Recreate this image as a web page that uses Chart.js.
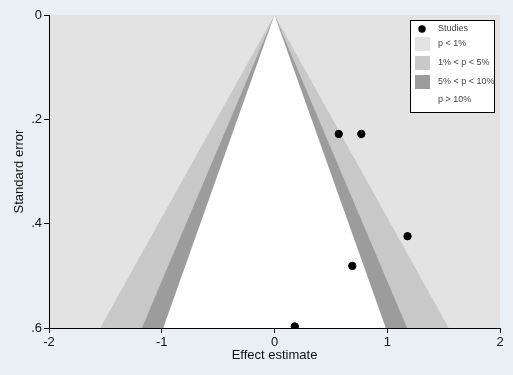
<!DOCTYPE html>
<html>
<head>
<meta charset="utf-8">
<script src="https://cdn.jsdelivr.net/npm/chart.js@4/dist/chart.umd.min.js"></script>
<style>
  html, body { margin: 0; padding: 0; background: #e9eff2; }
  #wrap { width: 513px; height: 375px; }
</style>
</head>
<body>
<div id="wrap"><canvas id="funnel" width="513" height="375"></canvas></div>
<script>
// study estimates and their standard errors
const studyEffects = [0.57, 0.77, 1.18, 0.69, 0.18];
const studySE = [0.228, 0.228, 0.424, 0.481, 0.597];

// contour z values (p = 1%, 5%, 10%) and funnel depth
const contourZ = [2.576, 1.96, 1.645];
const contourColors = ['#c8c8c8', '#9c9c9c', '#ffffff'];
const maxSE = 0.6;

const xTicks = [-2, -1, 0, 1, 2];
const yTicks = [0, 0.2, 0.4, 0.6];

const legendLabels = ['Studies', 'p < 1%', '1% < p < 5%', '5% < p < 10%', 'p > 10%'];
const legendColors = [null, '#e3e3e3', '#c8c8c8', '#9c9c9c', '#ffffff'];

function fmt(v) {
    if (v === 0) return '0';
    return String(v).replace('0.', '.');
}

// light gray plot background (p < 1% region)
const plotBg = {
    id: 'plotBg',
    beforeDraw(chart) {
        const { ctx, chartArea: a } = chart;
        ctx.save();
        ctx.fillStyle = '#e3e3e3';
        ctx.fillRect(a.left, a.top, a.right - a.left, a.bottom - a.top);
        ctx.restore();
    }
};

// boxed legend in the top right corner
const boxLegend = {
    id: 'boxLegend',
    afterDraw(chart) {
        const ctx = chart.ctx;
        const x = 410, y = 20, w = 84, h = 92;
        ctx.save();
        ctx.fillStyle = '#ffffff';
        ctx.fillRect(x, y, w, h);
        ctx.strokeStyle = '#000';
        ctx.lineWidth = 1;
        ctx.strokeRect(x + 0.5, y + 0.5, w, h);
        const rows = [29, 44, 63, 82, 100];
        ctx.font = '9px "Liberation Sans", Arial, sans-serif';
        ctx.textBaseline = 'middle';
        legendLabels.forEach((lab, i) => {
            const cy = rows[i];
            if (i === 0) {
                ctx.fillStyle = '#000';
                ctx.beginPath();
                ctx.arc(422, cy, 3.7, 0, Math.PI * 2);
                ctx.fill();
            } else {
                ctx.fillStyle = legendColors[i];
                ctx.fillRect(415, cy - 7, 15, 14);
            }
            ctx.fillStyle = '#444';
            ctx.fillText(lab, 438, cy);
        });
        ctx.restore();
    }
};

const funnelSets = contourZ.map((z, i) => ({
    type: 'line',
    data: [
        { x: -z * maxSE, y: maxSE },
        { x: 0, y: 0 },
        { x: z * maxSE, y: maxSE }
    ],
    borderWidth: 0,
    pointRadius: 0,
    backgroundColor: contourColors[i],
    borderColor: 'rgba(0,0,0,0)',
    fill: { value: maxSE },
    tension: 0,
    order: 3 - i
}));

const axisFont = { family: '"Liberation Sans", Arial, sans-serif', size: 13 };

new Chart(document.getElementById('funnel'), {
    type: 'scatter',
    data: {
        datasets: [
            {
                label: 'Studies',
                data: studyEffects.map((e, i) => ({ x: e, y: studySE[i] })),
                backgroundColor: '#000',
                borderColor: '#000',
                pointRadius: 3.7,
                order: 0
            },
            ...funnelSets
        ]
    },
    options: {
        responsive: false,
        animation: false,
        events: [],
        layout: { padding: { top: 15, right: 13, left: 0, bottom: 0 } },
        plugins: {
            legend: { display: false },
            tooltip: { enabled: false }
        },
        scales: {
            x: {
                type: 'linear',
                min: -2, max: 2,
                afterBuildTicks: s => { s.ticks = xTicks.map(v => ({ value: v })); },
                afterFit: s => { s.height = 47; },
                grid: { drawOnChartArea: false, color: '#000', tickLength: 5 },
                border: { color: '#000', width: 1 },
                ticks: {
                    color: '#111', padding: 2,
                    font: axisFont,
                    callback: v => fmt(v)
                },
                title: {
                    display: true, text: 'Effect estimate', color: '#111',
                    padding: { top: 0, bottom: 12 },
                    font: axisFont
                }
            },
            y: {
                type: 'linear',
                reverse: true,
                min: 0, max: maxSE,
                afterBuildTicks: s => { s.ticks = yTicks.map(v => ({ value: v })); },
                afterFit: s => { s.width = 49; },
                grid: { drawOnChartArea: false, color: '#000', tickLength: 5 },
                border: { color: '#000', width: 1 },
                ticks: {
                    color: '#111', padding: 2,
                    font: axisFont,
                    callback: v => fmt(v)
                },
                title: {
                    display: true, text: 'Standard error', color: '#111',
                    padding: { top: 12, bottom: 0 },
                    font: axisFont
                }
            }
        }
    },
    plugins: [plotBg, boxLegend]
});
</script>
</body>
</html>
